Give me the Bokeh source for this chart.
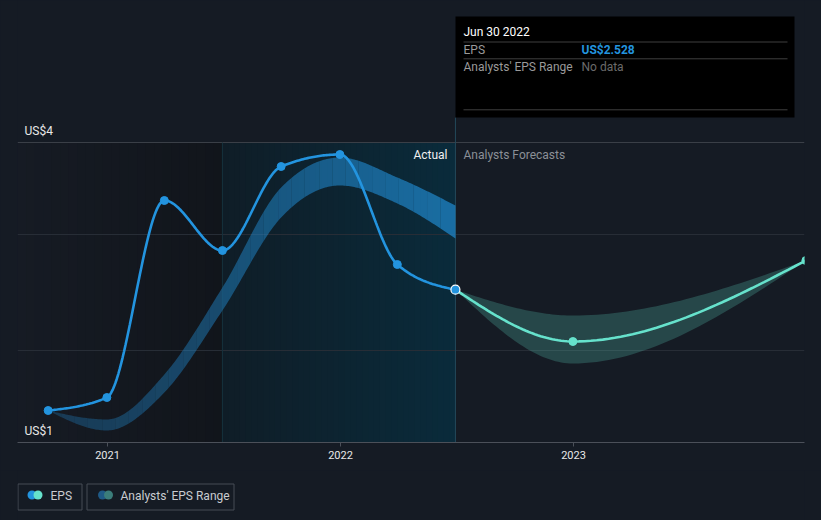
import numpy as np
import pandas as pd
from bokeh.plotting import figure
from bokeh.layouts import column
from bokeh.models import Range1d, Label, FixedTicker, DatetimeTickFormatter
from bokeh.embed import file_html
from bokeh.resources import INLINE

# ---------------- data ----------------
eps_dates = ["2020-09-30", "2020-12-31", "2021-03-31", "2021-06-30",
             "2021-09-30", "2021-12-31", "2022-03-31", "2022-06-30"]
eps_values = [1.32, 1.45, 3.42, 2.92, 3.76, 3.88, 2.78, 2.528]

past_range_low = [1.32, 1.12, 1.50, 2.32, 3.25, 3.57, 3.39, 3.04]
past_range_high = [1.32, 1.23, 1.68, 2.55, 3.55, 3.85, 3.65, 3.37]

fc_dates = ["2022-06-30", "2022-12-31", "2023-12-31"]
fc_values = [2.528, 2.01, 2.82]
fc_low = [2.528, 1.79, 2.82]
fc_high = [2.528, 2.27, 2.82]

year_ticks = ["2021", "2022", "2023"]
y_labels = {4: "US$4", 1: "US$1"}
grid_values = [3.08, 1.92]
legend_labels = ["EPS", "Analysts' EPS Range"]

# ---------------- style ----------------
BG = "#151b24"
BLUE = "#2394df"
AQUA = "#66e2cc"
FONT = "Roboto"


def ms(d):
    return pd.Timestamp(d).value / 1e6


def monotone(xs, ys, n=40):
    """d3 curveMonotoneX rendering path."""
    xs = np.asarray(xs, float)
    ys = np.asarray(ys, float)
    m = len(xs)
    h = np.diff(xs)
    s = np.diff(ys) / h
    t = np.zeros(m)
    for i in range(1, m - 1):
        s0, s1 = s[i - 1], s[i]
        pp = (s0 * h[i] + s1 * h[i - 1]) / (h[i - 1] + h[i])
        t[i] = (np.sign(s0) + np.sign(s1)) * min(abs(s0), abs(s1), 0.5 * abs(pp))
    if m > 2:
        t[0] = (3 * s[0] - t[1]) / 2
        t[-1] = (3 * s[-1] - t[-2]) / 2
    else:
        t[0] = t[-1] = s[0]
    ox, oy = [], []
    for i in range(m - 1):
        u = np.linspace(0, 1, n, endpoint=(i == m - 2))
        h00 = 2 * u**3 - 3 * u**2 + 1
        h10 = u**3 - 2 * u**2 + u
        h01 = -2 * u**3 + 3 * u**2
        h11 = u**3 - u**2
        ox.append(xs[i] + u * h[i])
        oy.append(h00 * ys[i] + h10 * h[i] * t[i] + h01 * ys[i + 1] + h11 * h[i] * t[i + 1])
    return np.concatenate(ox), np.concatenate(oy)


def mix(c0, c1, f):
    a = [int(c0[i:i + 2], 16) for i in (1, 3, 5)]
    b = [int(c1[i:i + 2], 16) for i in (1, 3, 5)]
    return "#%02x%02x%02x" % tuple(round(a[k] + (b[k] - a[k]) * f) for k in range(3))


eps_x = [ms(d) for d in eps_dates]
fc_x = [ms(d) for d in fc_dates]

# ranges (frame 787 x 442 px)
x_start = ms("2020-08-13")
x_end = x_start + 1232.8 * 86400000
y_lo, y_hi = 1.0, 5.42
FRAME_L, FRAME_W, FRAME_H = 17, 787, 442


def px_x(px):
    return x_start + (px - FRAME_L) / FRAME_W * (x_end - x_start)


def px_y(py):
    return y_lo + (FRAME_H - py) / FRAME_H * (y_hi - y_lo)


p = figure(width=821, height=470, x_axis_type="datetime",
           x_range=Range1d(x_start, x_end), y_range=Range1d(y_lo, y_hi),
           y_axis_location=None, output_backend="svg", toolbar_location=None,
           min_border_left=17, min_border_right=17, min_border_top=0,
           min_border_bottom=28, background_fill_color=BG, border_fill_color=BG,
           outline_line_color=None)
p.styles = {"background-color": BG}
p.xgrid.visible = False
p.ygrid.visible = False

# shaded periods
past_start, actual_start, actual_end = x_start, eps_x[3], eps_x[-1]


def strips(x0, x1, c0, c1, n):
    edges = np.linspace(x0, x1, n + 1)
    w = (x1 - x0) / n
    for i in range(n):
        p.quad(left=edges[i], right=min(edges[i + 1] + 0.4 * w, x1), bottom=1.0, top=4.0,
               fill_color=mix(c0, c1, (i + 0.5) / n), line_color=None)


strips(past_start, actual_start, "#161b24", "#11151b", 24)
strips(actual_start, actual_end, "#0f1d27", "#0a2b3b", 40)

# gridlines
p.segment(x0=x_start, x1=x_end, y0=4, y1=4, line_color="#3a3f47", line_width=1)
for g in grid_values:
    p.segment(x0=x_start, x1=x_end, y0=g, y1=g, line_color="#272d36", line_width=1)

# vertical markers
p.segment(x0=actual_start, x1=actual_start, y0=1.0, y1=4.0, line_color="#15323d", line_width=1)
p.segment(x0=actual_end, x1=actual_end, y0=1.0, y1=px_y(117), line_color="#23495a", line_width=1)

# past analyst range band (opacity grows to the right)
bx, blo = monotone(eps_x, past_range_low)
_, bhi = monotone(eps_x, past_range_high)
nchunk = 30
idx = np.linspace(0, len(bx) - 1, nchunk + 1).astype(int)
for k in range(nchunk):
    a, b = idx[k], idx[k + 1]
    alpha = 0.26 + 0.38 * (k + 0.5) / nchunk
    p.varea(x=bx[a:b + 1], y1=blo[a:b + 1], y2=bhi[a:b + 1], fill_color=BLUE,
            fill_alpha=alpha)

# forecast range band
fx, flo = monotone(fc_x, fc_low)
_, fhi = monotone(fc_x, fc_high)
p.varea(x=fx, y1=flo, y2=fhi, fill_color=AQUA, fill_alpha=0.22)

# EPS line
ex, ey = monotone(eps_x, eps_values)
p.line(ex, ey, line_color=BLUE, line_width=2.6)
# forecast line
fxx, fyy = monotone(fc_x, fc_values)
p.line(fxx, fyy, line_color=AQUA, line_width=2.6)

p.scatter(eps_x[:-1], eps_values[:-1], size=8, fill_color=BLUE, line_color=BLUE)
p.scatter(fc_x[1:], fc_values[1:], size=8, fill_color=AQUA, line_color=AQUA)
p.scatter([eps_x[-1]], [eps_values[-1]], size=9, fill_color=BLUE, line_color="white",
          line_width=1.2)

# axis
p.xaxis.ticker = FixedTicker(ticks=[ms(f"{y}-01-01") for y in year_ticks])
p.xaxis.formatter = DatetimeTickFormatter(years="%Y", months="%Y", days="%Y",
                                          hours="%Y", minutes="%Y")
p.xaxis.axis_line_color = "#4b5059"
p.xaxis.major_tick_line_color = "#4b5059"
p.xaxis.major_tick_out = 4
p.xaxis.major_tick_in = 0
p.xaxis.minor_tick_line_color = None
p.xaxis.major_label_text_color = "#e8e8e8"
p.xaxis.major_label_text_font = FONT
p.xaxis.major_label_text_font_size = "11px"
p.xaxis.major_label_standoff = 4

# y labels
for v, txt in y_labels.items():
    p.add_layout(Label(x=px_x(24), y=v, y_offset=12, text=txt,
                       text_font=FONT, text_font_size="12px", text_color="#e8e8e8",
                       text_baseline="middle", text_align="left"))

# Actual / forecasts
p.add_layout(Label(x=px_x(447), y=px_y(154), text="Actual", text_font=FONT,
                   text_font_size="12px", text_color="#f0f0f0", text_align="right",
                   text_baseline="middle"))
p.add_layout(Label(x=px_x(463), y=px_y(154), text="Analysts Forecasts", text_font=FONT,
                   text_font_size="12px", text_color="#8b9097", text_align="left",
                   text_baseline="middle"))

# tooltip box
p.quad(left=px_x(455), right=px_x(794), top=px_y(16), bottom=px_y(117), fill_color="black",
       line_color=None)
for yy in (41.5, 58.3, 109.3):
    p.segment(x0=px_x(463), x1=px_x(787), y0=px_y(yy), y1=px_y(yy), line_color="#3f3f3f",
              line_width=1)
tip = [
    (463, 31, "Jun 30 2022", "#ffffff", "normal"),
    (463, 49.5, "EPS", "#9a9a9a", "normal"),
    (581, 49.5, "US$%.3f" % eps_values[-1], BLUE, "bold"),
    (463, 66.5, "Analysts' EPS Range", "#9a9a9a", "normal"),
    (581, 66.5, "No data", "#6b6b6b", "normal"),
]
for tx, ty, txt, col, st in tip:
    p.add_layout(Label(x=px_x(tx), y=px_y(ty), text=txt, text_font=FONT, text_font_size="12px",
                       text_color=col, text_font_style=st, text_align="left",
                       text_baseline="middle"))

# ---------------- legend strip (frame aligned with main frame: 17..804) ----------------
lg = figure(width=821, height=50, x_range=Range1d(17, 804), y_range=Range1d(50, 0),
            x_axis_location=None, y_axis_location=None, output_backend="svg",
            toolbar_location=None, min_border_left=17, min_border_right=17,
            min_border_top=0, min_border_bottom=0, background_fill_color=BG,
            border_fill_color=BG, outline_line_color=None)
lg.styles = {"background-color": BG}
lg.xgrid.visible = False
lg.ygrid.visible = False
lg.quad(left=[17.5, 86.5], right=[81.5, 233.5], top=[13.5, 13.5], bottom=[39.5, 39.5],
        fill_color=None, line_color="#464c55", line_width=1)
lg.scatter([31.5], [24.5], size=9, fill_color=BLUE, line_color=None)
lg.scatter([37.5], [24.5], size=9, fill_color=AQUA, line_color=None)
lg.scatter([102], [24.5], size=9, fill_color="#1f5a86", line_color=None)
lg.scatter([108], [24.5], size=9, fill_color="#3b7d7a", line_color=None)
for tx, txt in zip((50, 120), legend_labels):
    lg.add_layout(Label(x=tx, y=25, text=txt, text_font=FONT, text_font_size="12px",
                        text_color="#c9ccd0", text_align="left", text_baseline="middle"))

layout = column(p, lg, spacing=0)
layout.styles = {"background-color": BG}
open("out.html", "w").write(file_html(layout, INLINE))
